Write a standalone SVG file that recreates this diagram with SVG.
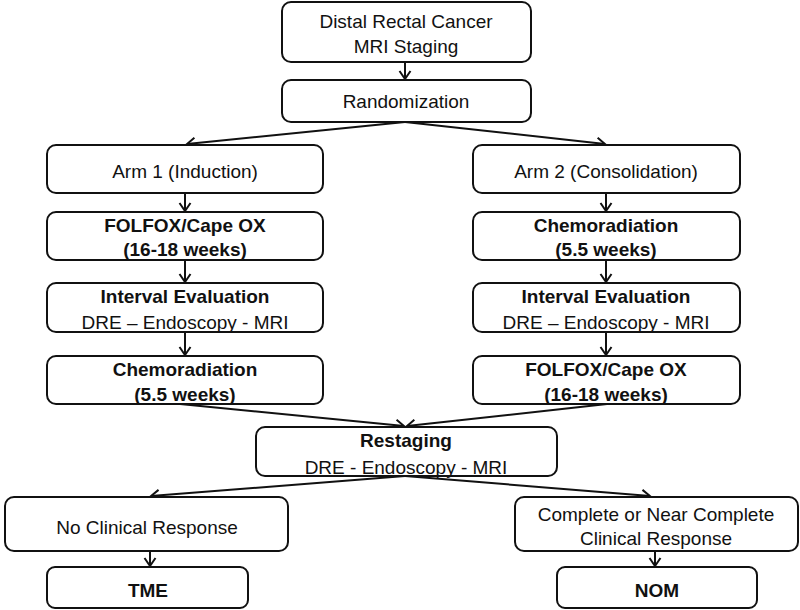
<svg xmlns="http://www.w3.org/2000/svg" width="800" height="610" viewBox="0 0 800 610">
<style>
.box{fill:#fff;stroke:#111;stroke-width:2}
text{font-family:"Liberation Sans",Arial,sans-serif;font-size:19px;fill:#111;text-anchor:middle}
.b{font-weight:bold}
.c{stroke:#111;stroke-width:2;fill:none;marker-end:url(#ah)}
</style>
<defs>
<marker id="ah" markerUnits="userSpaceOnUse" markerWidth="16" markerHeight="16" viewBox="-10 -8 12 16" refX="0" refY="0" orient="auto">
<path d="M-8,-5.5 L0,0 L-8,5.5" fill="none" stroke="#111" stroke-width="2"/>
</marker>
</defs>
<rect width="800" height="610" fill="#fff"/>
<g id="connectors">
<line class="c" x1="405" y1="62" x2="405" y2="79"/>
<line class="c" x1="405" y1="122" x2="187" y2="144"/>
<line class="c" x1="405" y1="122" x2="605" y2="144"/>
<line class="c" x1="185" y1="193" x2="185" y2="211"/>
<line class="c" x1="185" y1="260" x2="185" y2="282"/>
<line class="c" x1="185" y1="332" x2="185" y2="355"/>
<line class="c" x1="606" y1="193" x2="606" y2="211"/>
<line class="c" x1="606" y1="260" x2="606" y2="282"/>
<line class="c" x1="606" y1="332" x2="606" y2="355"/>
<line class="c" x1="180" y1="404" x2="404" y2="426"/>
<line class="c" x1="607" y1="404" x2="407" y2="426"/>
<line class="c" x1="405" y1="476" x2="151" y2="496"/>
<line class="c" x1="405" y1="476" x2="650" y2="496"/>
<line class="c" x1="150" y1="551" x2="150" y2="566"/>
<line class="c" x1="655" y1="551" x2="655" y2="566"/>
</g>
<g id="n-start"><rect class="box" x="282" y="2" width="249" height="60" rx="9"/><text x="406" y="28">Distal Rectal Cancer</text><text x="406" y="53">MRI Staging</text></g>
<g id="n-rand"><rect class="box" x="282" y="80" width="249" height="42" rx="9"/><text x="406" y="108">Randomization</text></g>
<g id="n-arm1"><rect class="box" x="47" y="145" width="276" height="48" rx="9"/><text x="185" y="178">Arm 1 (Induction)</text></g>
<g id="n-arm2"><rect class="box" x="473" y="145" width="267" height="48" rx="9"/><text x="606" y="178">Arm 2 (Consolidation)</text></g>
<g id="n-folfox1"><rect class="box" x="47" y="212" width="276" height="48" rx="9"/><text class="b" x="185" y="232">FOLFOX/Cape OX</text><text class="b" x="185" y="256">(16-18 weeks)</text></g>
<g id="n-chemo2"><rect class="box" x="473" y="212" width="267" height="48" rx="9"/><text class="b" x="606" y="232">Chemoradiation</text><text class="b" x="606" y="256">(5.5 weeks)</text></g>
<g id="n-int1"><rect class="box" x="47" y="283" width="276" height="49" rx="9"/><text class="b" x="185" y="303">Interval Evaluation</text><text x="185" y="329">DRE – Endoscopy - MRI</text></g>
<g id="n-int2"><rect class="box" x="473" y="283" width="267" height="49" rx="9"/><text class="b" x="606" y="303">Interval Evaluation</text><text x="606" y="329">DRE – Endoscopy - MRI</text></g>
<g id="n-chemo1"><rect class="box" x="47" y="356" width="276" height="48" rx="9"/><text class="b" x="185" y="376">Chemoradiation</text><text class="b" x="185" y="401">(5.5 weeks)</text></g>
<g id="n-folfox2"><rect class="box" x="473" y="356" width="267" height="48" rx="9"/><text class="b" x="606" y="376">FOLFOX/Cape OX</text><text class="b" x="606" y="401">(16-18 weeks)</text></g>
<g id="n-restage"><rect class="box" x="256" y="427" width="301" height="49" rx="9"/><text class="b" x="406" y="447">Restaging</text><text x="406" y="474">DRE - Endoscopy - MRI</text></g>
<g id="n-noresp"><rect class="box" x="5" y="497" width="283" height="54" rx="9"/><text x="147" y="534">No Clinical Response</text></g>
<g id="n-complete"><rect class="box" x="515" y="497" width="283" height="54" rx="9"/><text x="656" y="521">Complete or Near Complete</text><text x="656" y="545">Clinical Response</text></g>
<g id="n-tme"><rect class="box" x="47" y="567" width="201" height="41" rx="8"/><text class="b" x="148" y="597">TME</text></g>
<g id="n-nom"><rect class="box" x="557" y="567" width="200" height="41" rx="8"/><text class="b" x="657" y="597">NOM</text></g>
</svg>
